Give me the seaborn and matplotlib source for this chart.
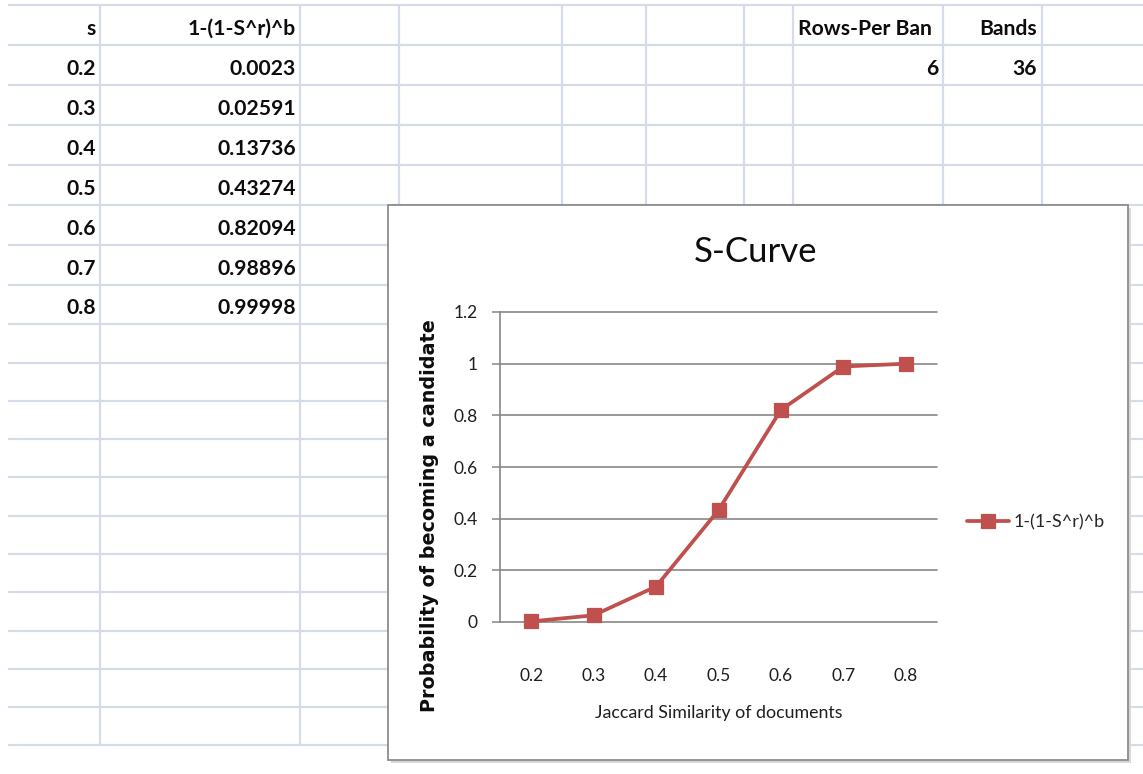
import matplotlib
matplotlib.use("Agg")
import matplotlib.pyplot as plt
from matplotlib.patches import Rectangle
import seaborn as sns

# Similarity thresholds and the banding curve 1-(1-s^r)^b
similarity = [0.2, 0.3, 0.4, 0.5, 0.6, 0.7, 0.8]
candidate_prob = [0.0023, 0.02591, 0.13736, 0.43274, 0.82094, 0.98896, 0.99998]
rows_per_band = 6
bands = 36

col_s_header = "s"
col_p_header = "1-(1-S^r)^b"
param_headers = ["Rows-Per Ban", "Bands"]
series_name = "1-(1-S^r)^b"
chart_title = "S-Curve"
x_title = "Jaccard Similarity of documents"
y_title = "Probability of becoming a candidate"
y_ticks = [0, 0.2, 0.4, 0.6, 0.8, 1.0, 1.2]
y_tick_labels = ["0", "0.2", "0.4", "0.6", "0.8", "1", "1.2"]

sns.set_theme(style="white")
plt.rcParams["font.family"] = ["Lato", "DejaVu Sans"]

W, H = 1143, 774
fig = plt.figure(figsize=(W / 100, H / 100), dpi=100)
fig.patch.set_facecolor("white")

# ---- worksheet layer, drawn in pixel coordinates ----
sheet = fig.add_axes([0, 0, 1, 1])
sheet.set_xlim(0, W)
sheet.set_ylim(H, 0)
sheet.axis("off")

grid_c = "#d5dbe9"
row_edges = [5, 45, 85, 125, 165, 205, 245, 285, 324, 363, 401, 439,
             477, 516, 554, 592, 631, 669, 707, 745]
col_edges_full = [100, 300]
col_edges_top = [399, 562, 646, 744, 793, 943, 1042]
cx0, cy0, cx1, cy1 = 388, 205, 1128, 760  # embedded chart frame

cell_font = dict(fontsize=15.2, fontweight="bold", color="#0d0d0d", zorder=2)


def baseline(row):
    return row_edges[row + 1] - 10


sheet.text(96, baseline(0), col_s_header, ha="right", va="baseline", **cell_font)
sheet.text(296, baseline(0), col_p_header, ha="right", va="baseline", **cell_font)
for i, (s, p) in enumerate(zip(similarity, candidate_prob), start=1):
    sheet.text(96, baseline(i), f"{s:g}", ha="right", va="baseline", **cell_font)
    sheet.text(296, baseline(i), f"{p:g}", ha="right", va="baseline", **cell_font)

# parameter cells
sheet.text(798, baseline(0), param_headers[0], ha="left", va="baseline", **cell_font)
sheet.text(1037, baseline(0), param_headers[1], ha="right", va="baseline", **cell_font)
sheet.text(938, baseline(1), f"{rows_per_band}", ha="right", va="baseline", **cell_font)
sheet.text(1037, baseline(1), f"{bands}", ha="right", va="baseline", **cell_font)

# cell gridlines
line_kw = dict(color=grid_c, lw=1.6, solid_capstyle="butt", zorder=3)
for y in row_edges:
    if y <= cy0:
        sheet.plot([8, W], [y, y], **line_kw)
    else:
        sheet.plot([8, cx0], [y, y], **line_kw)
        sheet.plot([cx1, W], [y, y], **line_kw)
for x in col_edges_full:
    sheet.plot([x, x], [5, 745], **line_kw)
for x in col_edges_top:
    sheet.plot([x, x], [5, cy0], **line_kw)

# chart frame with a soft drop shadow
sheet.add_patch(Rectangle((cx0 + 3, cy0 + 3), cx1 - cx0, cy1 - cy0,
                          facecolor="#d8d8d8", edgecolor="none", zorder=4))
sheet.add_patch(Rectangle((cx0, cy0), cx1 - cx0, cy1 - cy0,
                          facecolor="white", edgecolor="#8c8c8c", lw=1.3, zorder=5))

# ---- plot area ----
px0, px1, py0, py1 = 500, 937, 622, 312
ax = fig.add_axes([px0 / W, 1 - py0 / H, (px1 - px0) / W, (py0 - py1) / H])
ax.set_facecolor("none")

red = "#c0504d"
sns.pointplot(x=similarity, y=candidate_prob, hue=[series_name] * len(similarity),
              palette=[red], markers="s", errorbar=None, ax=ax,
              markersize=10.5, linewidth=2.7, markeredgewidth=0.9)

ax.set_ylim(0, 1.2)
ax.set_xlim(-0.5, len(similarity) - 0.5)
ax.set_yticks(y_ticks, labels=y_tick_labels)

grid_gray = "#878787"
for side in ["top", "right", "bottom"]:
    ax.spines[side].set_visible(False)
ax.spines["left"].set_color(grid_gray)
ax.spines["left"].set_linewidth(1.2)
ax.yaxis.grid(True, color=grid_gray, lw=1.2)
ax.xaxis.grid(False)
for gl in ax.get_ygridlines():
    gl.set_clip_on(False)
for ln in ax.lines:
    ln.set_clip_on(False)
    ln.set_zorder(5)

ax.tick_params(axis="y", left=True, length=6, width=1.1, color=grid_gray,
               pad=10, labelsize=12.5, labelcolor="#1e1e1e")
ax.tick_params(axis="x", bottom=False, length=0, pad=33, labelsize=12.5,
               labelcolor="#1e1e1e")

ax.set_xlabel(x_title, fontsize=12.8, color="#1e1e1e")
ax.xaxis.set_label_coords(0.5, -0.268)
ax.set_ylabel(y_title, fontsize=13.8, fontweight="bold", color="#0d0d0d",
              family=["DejaVu Sans"])
ax.yaxis.set_label_coords(-0.140, 0.342)

ax.set_title(chart_title, fontsize=25, color="#0d0d0d", x=0.585, y=1.161, pad=0)

sns.move_legend(ax, "center left", bbox_to_anchor=(1.0686, 0.3226), frameon=False,
                borderpad=0, borderaxespad=0, handlelength=2.3, handletextpad=0.3,
                fontsize=13)

fig.savefig("out.png", dpi=100, facecolor="white")
